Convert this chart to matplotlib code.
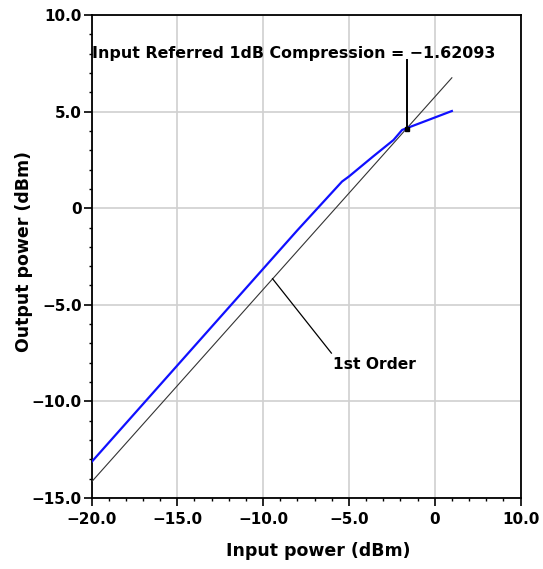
import matplotlib
matplotlib.use("Agg")
import matplotlib.pyplot as plt
from matplotlib.ticker import MultipleLocator, FixedLocator, FixedFormatter

plt.rcParams['font.family'] = ['DejaVu Sans']

# Data
pin_blue = [-20.0, -14.0, -8.0, -5.4, -5.0, -3.6, -2.4, -1.9, 1.0]
pout_blue = [-13.14, -7.14, -1.14, 1.38, 1.64, 2.67, 3.53, 4.05, 5.03]

pin_first = [-20.0, 1.0]
pout_first = [-14.17, 6.75]

comp_x = -1.62093
comp_y = 4.09

xtick_pos = [-20, -15, -10, -5, 0, 5]
xtick_labels = ["\u221220.0", "\u221215.0", "\u221210.0", "\u22125.0", "0", "10.0"]
ytick_pos = [-15, -10, -5, 0, 5, 10]
ytick_labels = ["\u221215.0", "\u221210.0", "\u22125.0", "0", "5.0", "10.0"]

annot_text = "Input Referred 1dB Compression = \u22121.62093"
order_text = "1st Order"

fig = plt.figure(figsize=(5.43, 5.69), dpi=100)
ax = fig.add_axes([91.5 / 543, 1 - 498 / 569, 429 / 543, 483 / 569])

ax.set_xlim(-20, 5)
ax.set_ylim(-15, 10)

ax.grid(True, which='major', color='#d0d0d0', linewidth=1.2)
ax.set_axisbelow(True)

ax.plot(pin_first, pout_first, color='#333333', linewidth=0.8, zorder=3)
ax.plot(pin_blue, pout_blue, color='#1010ff', linewidth=1.6, zorder=4)

# compression marker and annotation
ax.plot([comp_x], [comp_y], marker='s', markersize=3.0, color='black', zorder=5)
ax.plot([comp_x, comp_x], [comp_y, 7.67], color='black', linewidth=1.4, zorder=5)
ax.text(-19.95, 7.79, annot_text, fontsize=11.4, fontweight='bold',
        ha='left', va='baseline', zorder=6)

# 1st order leader
ax.plot([-9.45, -6.02], [-3.65, -7.5], color='black', linewidth=0.9, zorder=5)
ax.text(-5.95, -8.31, order_text, fontsize=11.2, fontweight='bold',
        ha='left', va='baseline', zorder=6)

ax.xaxis.set_major_locator(FixedLocator(xtick_pos))
ax.xaxis.set_major_formatter(FixedFormatter(xtick_labels))
ax.yaxis.set_major_locator(FixedLocator(ytick_pos))
ax.yaxis.set_major_formatter(FixedFormatter(ytick_labels))
ax.xaxis.set_minor_locator(MultipleLocator(1))
ax.yaxis.set_minor_locator(MultipleLocator(1))

ax.tick_params(which='major', direction='out', length=5.5, width=1.2, labelsize=11, pad=1.5)
ax.tick_params(which='minor', direction='out', length=2.5, width=1.0)
ax.tick_params(axis='x', which='major', pad=4.5)
for lab in ax.get_xticklabels() + ax.get_yticklabels():
    lab.set_fontweight('bold')

for sp in ax.spines.values():
    sp.set_linewidth(1.3)
    sp.set_color('black')

ax.set_xlabel("Input power (dBm)", fontsize=12.5, fontweight='bold')
ax.set_ylabel("Output power (dBm)", fontsize=12.5, fontweight='bold')
ax.xaxis.set_label_coords((318 - 91.5) / 429, (498 - 551) / 483)
ax.yaxis.set_label_coords((24 - 91.5) / 429, (498 - 252) / 483)
ax.xaxis.label.set_va('center')
ax.yaxis.label.set_va('center')

fig.savefig("out.png", dpi=100)
